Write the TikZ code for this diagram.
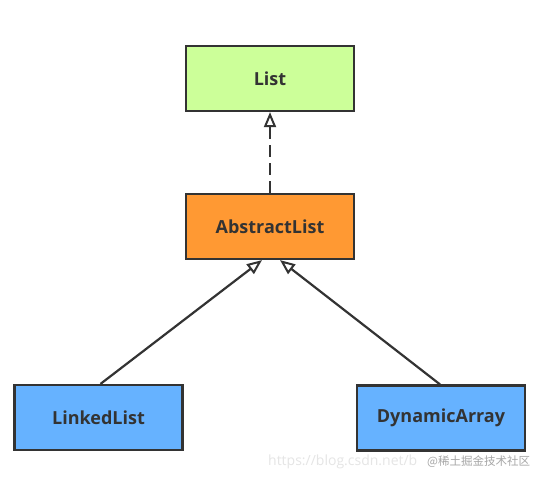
\documentclass[tikz,border=0pt]{standalone}
\usepackage{fontspec}
\setmainfont{Open Sans}
\newfontfamily\boxfont{Open Sans Bold}
\newfontfamily\cjk{Noto Sans CJK SC}
\usetikzlibrary{arrows.meta}
\definecolor{boxline}{HTML}{333333}
\definecolor{listgreen}{HTML}{CCFF99}
\definecolor{absorange}{HTML}{FF9933}
\definecolor{implblue}{HTML}{66B2FF}
\tikzset{
  classbox/.style={draw=boxline, line width=2.2pt, minimum width=168pt, minimum height=65pt,
    inner sep=0pt, font=\boxfont\fontsize{18}{20}\selectfont, text=boxline},
  inherit/.style={draw=boxline, line width=2.2pt, -{Triangle[open, length=15pt, width=12pt, line width=2pt]}},
  realize/.style={inherit, dash pattern=on 12pt off 6pt},
  wm/.style={inner sep=0pt, anchor=west}
}
\begin{document}
\begin{tikzpicture}[x=1pt, y=-1pt]
\useasboundingbox[fill=white] (0,0) rectangle (543,482);
\node[classbox, fill=listgreen] (list) at (270,78.5) {List};
\node[classbox, fill=absorange] (abs) at (270,226.5) {AbstractList};
\node[classbox, fill=implblue] (linked) at (98.5,417.5) {LinkedList};
\node[classbox, fill=implblue] (dyn) at (441,418) {DynamicArray};
\coordinate (absL) at ([xshift=-8pt]abs.south);
\coordinate (absR) at ([xshift=10pt]abs.south);
\coordinate (linkedT) at ([xshift=2pt]linked.north);
\coordinate (dynT) at ([xshift=-1pt]dyn.north);
\draw[realize] (abs.north) -- (list.south);
\draw[inherit] (linkedT) -- (absL);
\draw[inherit] (dynT) -- (absR);
\node[wm, text=black!10, font=\fontsize{14}{16}\selectfont] (csdn) at (268,462) {https://blog.csdn.net/b};
\node[wm, text=black!35, font=\cjk\fontsize{11.5}{13}\selectfont] (juejin) at (427,462) {@稀土掘金技术社区};
\end{tikzpicture}
\end{document}
